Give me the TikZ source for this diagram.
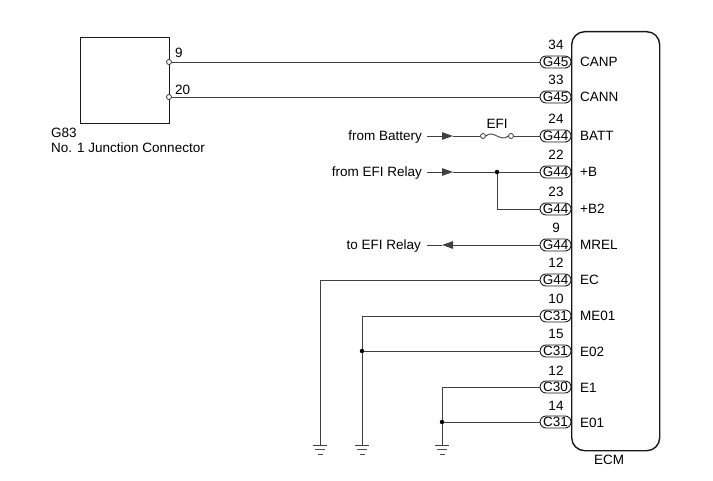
\documentclass[tikz,border=0pt]{standalone}
\usepackage{fontspec}
\setmainfont{Liberation Sans}
\usetikzlibrary{arrows.meta}
\newcommand{\fsz}{\fontsize{13.5}{15}\selectfont}
\begin{document}
\begin{tikzpicture}[x=1pt,y=-1pt,
  wire/.style={line width=0.9pt, draw=black!75},
  boxl/.style={draw=black!90, line width=1.4pt, inner sep=0pt},
  conn/.style={draw=black!90, line width=0.9pt, rounded corners=6pt, minimum width=31pt, minimum height=12pt, inner sep=0pt, font=\fsz},
  lbl/.style={inner sep=0pt, font=\fsz},
  pinc/.style={circle, draw=black!80, fill=white, line width=0.8pt, minimum size=5pt, inner sep=0pt},
  dotj/.style={circle, fill=black, minimum size=4.5pt, inner sep=0pt},
  arrR/.style={wire, -{Triangle[length=11pt,width=7.5pt]}},
  gnd/.pic={\draw[wire] (-7,0)--(7,0); \draw[line width=0.7pt, draw=black!70] (-5,4.5)--(5,4.5); \draw[line width=0.6pt, draw=black!70] (-2.5,9)--(2.5,9);}
]
\useasboundingbox (0,0) rectangle (713,481);
% G83 junction connector
\node[boxl, minimum width=89pt, minimum height=86pt, anchor=north west] (g83) at (80,37) {};
\node[pinc] (p9) at (169,62) {};
\node[pinc] (p20) at (169,97) {};
\node[lbl, anchor=base west] (t9) at (175,58) {9};
\node[lbl, anchor=base west] (t20) at (175,95) {20};
\node[lbl, anchor=base west] (tg83) at (51,138) {G83};
\node[lbl, anchor=base west] (tjc) at (51,153) {No. 1 Junction Connector};
% ECM
\node[boxl, rounded corners=13pt, minimum width=88pt, minimum height=419pt, anchor=north west] (ecm) at (571,31) {};
\node[lbl, anchor=base] (tecm) at (609,464) {ECM};
% connectors
\foreach \n/\y/\c/\num/\sig in {1/62/G45/34/CANP, 2/97/G45/33/CANN, 3/136/G44/24/BATT, 4/172/G44/22/+B, 5/209/G44/23/+B2, 6/245/G44/9/MREL, 7/280/G44/12/EC, 8/316/C31/10/ME01, 9/351/C31/15/E02, 10/387/C30/12/E1, 11/422/C31/14/E01}{
  \node[conn, anchor=east] (c\n) at (571.5,\y) {\c};
  \node[lbl, anchor=base] (n\n) at (556,\y-12) {\num};
  \node[lbl, anchor=base west] (s\n) at (580,\y+5) {\sig};
}
% CAN wires
\draw[wire] (p9) -- (c1.west);
\draw[wire] (p20) -- (c2.west);
% BATT
\node[lbl, anchor=base east] (fb) at (422,141) {from Battery};
\coordinate (fbL) at (427,136);
\coordinate (fbT) at (453,136);
\node[pinc] (fuL) at (483,136) {};
\node[pinc] (fuR) at (511,136) {};
\node[lbl, anchor=base] (tefi) at (497,129) {EFI};
\draw[arrR] (fbL) -- (fbT);
\draw[wire] (fbT) -- (fuL);
\draw[wire] (fuL.east) .. controls (493,129) and (501,143) .. (fuR.west);
\draw[wire] (fuR) -- (c3.west);
% +B
\node[lbl, anchor=base east] (fr) at (422,177) {from EFI Relay};
\coordinate (frL) at (427,172);
\coordinate (frT) at (453,172);
\node[dotj] (jb) at (497,172) {};
\coordinate (kb) at (497,209);
\draw[arrR] (frL) -- (frT);
\draw[wire] (frT) -- (jb) -- (c4.west);
\draw[wire] (jb) -- (kb) -- (c5.west);
% MREL
\node[lbl, anchor=base east] (tr) at (421,250) {to EFI Relay};
\coordinate (trL) at (427,245);
\coordinate (trT) at (442,245);
\draw[wire] (trL) -- (trT);
\draw[arrR] (c6.west) -- (trT);
% grounds
\coordinate (g1) at (320,445);
\coordinate (g2) at (362,445);
\coordinate (g3) at (442,445);
\coordinate (k7) at (320,280);
\coordinate (k8) at (362,316);
\coordinate (k10) at (442,387);
\node[dotj] (j9) at (362,351) {};
\node[dotj] (j11) at (442,422) {};
\draw[wire] (c7.west) -- (k7) -- (g1);
\draw[wire] (c8.west) -- (k8) -- (j9) -- (g2);
\draw[wire] (c9.west) -- (j9);
\draw[wire] (c10.west) -- (k10) -- (j11) -- (g3);
\draw[wire] (c11.west) -- (j11);
\pic at (g1) {gnd};
\pic at (g2) {gnd};
\pic at (g3) {gnd};
\end{tikzpicture}
\end{document}
